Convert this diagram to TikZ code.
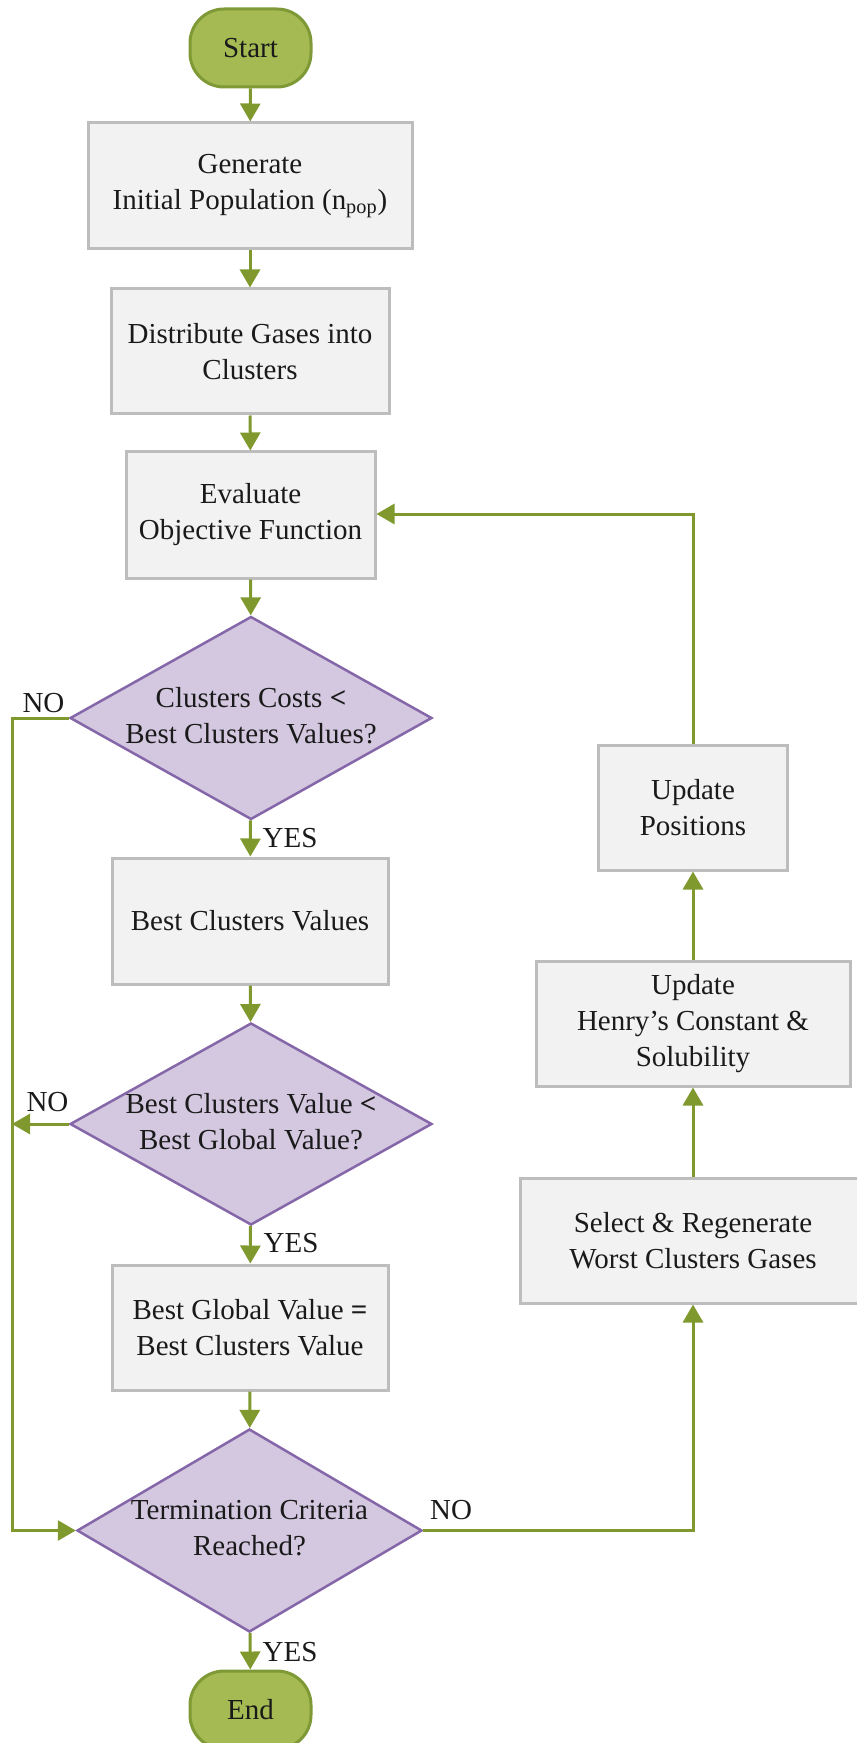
\documentclass[tikz,border=0pt]{standalone}
\usepackage{fontspec}
\setmainfont{Liberation Serif}
\usetikzlibrary{shapes.geometric,arrows.meta}
\definecolor{lnG}{HTML}{7F992F}
\definecolor{termF}{HTML}{A5BA52}
\definecolor{termD}{HTML}{7E9935}
\definecolor{decF}{HTML}{D3C8E0}
\definecolor{decD}{HTML}{8566A8}
\definecolor{boxF}{HTML}{F2F2F2}
\definecolor{boxD}{HTML}{BDBDBD}
\definecolor{txt}{HTML}{1A1A1A}
\newcommand{\dtext}[1]{\makebox[0pt]{\begin{tabular}{@{}c@{}}#1\end{tabular}}}
\begin{document}
\begin{tikzpicture}[x=0.5pt,y=-0.5pt,
  every node/.style={font=\fontsize{14.5}{18}\selectfont, text=txt},
  terminal/.style={draw=termD, fill=termF, line width=1.5pt, rounded corners=17pt, inner sep=0pt},
  procbox/.style={draw=boxD, fill=boxF, line width=1.5pt, align=center, inner sep=0pt},
  decision/.style={draw=decD, fill=decF, line width=1.25pt, shape=diamond, inner sep=0pt},
  flow/.style={draw=lnG, line width=1.5pt, -{Triangle[width=10pt,length=9pt]}},
  lbl/.style={inner sep=0pt}
]
\useasboundingbox (0,0) rectangle (856,1743);
% left column
\node[terminal, minimum width=60.5pt, minimum height=39pt] (start) at (250.5,48) {Start};
\node[procbox, minimum width=162pt, minimum height=63pt] (gen) at (250,186) {Generate\\Initial Population (n\textsubscript{pop})};
\node[procbox, minimum width=139pt, minimum height=62.5pt] (dist) at (250,351.5) {Distribute Gases into\\Clusters};
\node[procbox, minimum width=124.5pt, minimum height=63pt] (eval) at (250.5,515) {Evaluate\\Objective Function};
\node[decision, minimum width=181pt, minimum height=101.5pt] (d1) at (251,718) {\dtext{Clusters Costs \textbf{<}\\Best Clusters Values?}};
\node[procbox, minimum width=138pt, minimum height=63pt] (best) at (250,921) {Best Clusters Values};
\node[decision, minimum width=181pt, minimum height=101pt] (d2) at (251,1124) {\dtext{Best Clusters Value \textbf{<}\\Best Global Value?}};
\node[procbox, minimum width=138pt, minimum height=62.5pt] (bgv) at (250,1327.5) {Best Global Value \textbf{=}\\Best Clusters Value};
\node[decision, minimum width=172.5pt, minimum height=101.5pt] (term) at (249.5,1530.5) {\dtext{Termination Criteria\\Reached?}};
\node[terminal, minimum width=60.5pt, minimum height=39pt] (end) at (250.5,1710) {End};
% right column
\node[procbox, minimum width=94.5pt, minimum height=62.5pt] (upos) at (693,807.5) {Update\\Positions};
\node[procbox, minimum width=157pt, minimum height=62.5pt] (henry) at (693,1023.5) {Update\\Henry’s Constant \&\\Solubility};
\node[procbox, minimum width=173pt, minimum height=62.5pt] (sel) at (693,1240.5) {Select \& Regenerate\\Worst Clusters Gases};
% coordinates
\coordinate (lt) at (12,718);
\coordinate (lb) at (12,1530.5);
\coordinate (lm) at (12,1124);
\coordinate (rb) at (693,1530.5);
\coordinate (rt) at (693,514);
% connectors
\draw[flow] (start) -- (gen);
\draw[flow] (gen) -- (dist);
\draw[flow] (dist) -- (eval);
\draw[flow] (eval) -- (d1);
\draw[flow] (d1) -- (best);
\draw[flow] (best) -- (d2);
\draw[flow] (d2) -- (bgv);
\draw[flow] (bgv) -- (term);
\draw[flow] (term) -- (end);
\draw[flow] (d1.west) -- (lt) -- (lb) -- (term.west);
\draw[flow] (d2.west) -- (lm);
\draw[flow] (term.east) -- (rb) -- (sel.south);
\draw[flow] (sel) -- (henry);
\draw[flow] (henry) -- (upos);
\draw[flow] (upos.north) -- (rt) -- (eval.east |- rt);
% labels
\node[lbl] (no1) at (43.5,703) {NO};
\node[lbl] (no2) at (47.5,1102) {NO};
\node[lbl] (no3) at (451,1510) {NO};
\node[lbl] (yes1) at (290,838) {YES};
\node[lbl] (yes2) at (291,1243) {YES};
\node[lbl] (yes3) at (290,1652) {YES};
\end{tikzpicture}
\end{document}
